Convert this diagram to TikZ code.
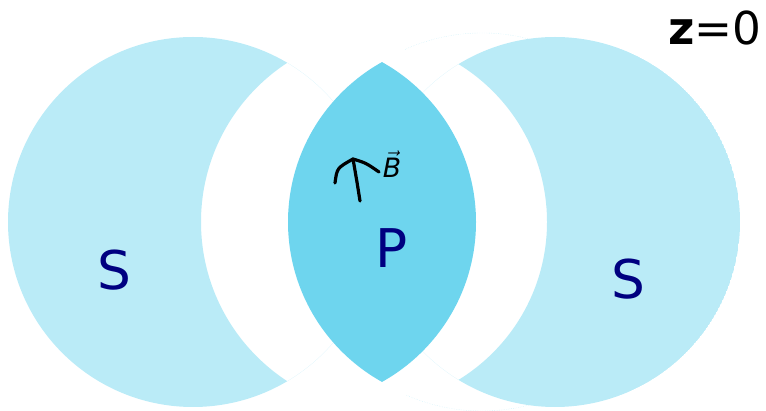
\documentclass[tikz,border=0pt]{standalone}
\usepackage{amsmath}
\usepackage{fontspec}
\setmainfont{DejaVu Sans}
\usepackage{tikz}
\usetikzlibrary{calc}
\definecolor{PaleCyan}{RGB}{186,235,247}
\definecolor{LensCyan}{RGB}{110,213,238}
\definecolor{NavyText}{RGB}{0,0,128}
\tikzset{
	region label/.style={text=NavyText, inner sep=0pt, font=\fontsize{40}{48}\selectfont},
	hand stroke/.style={line width=2.4pt, line cap=round, line join=round}
}
\begin{document}
\begin{tikzpicture}[x=0.75pt, y=0.75pt]
			\useasboundingbox (0,0) rectangle (766,410);
			
			\coordinate (CL) at (193,188);
			\coordinate (CR) at (555,188);
			
			% 左侧 S 区
			\begin{scope}
				\clip (CL) circle (185);
				\fill[PaleCyan, even odd rule] (CL) circle (185) (391,188) circle (190);
			\end{scope}
			% 右侧 S 区
			\begin{scope}
				\clip (CR) circle (185);
				\fill[PaleCyan, even odd rule] (CR) circle (185) (362,188) circle (185);
			\end{scope}
			\draw[LensCyan!45, densely dotted, line width=0.3pt] (482,188) ++(114:189) arc (114:-114:189);
			
			% 中间 P 区
			\begin{scope}
				\clip (293,188) circle (183);
				\fill[LensCyan] (471,188) circle (183);
			\end{scope}
			
			\node[region label] (sleft) at (114,140) {S};
			\node[region label] (sright) at (628,131) {S};
			\node[region label] (plabel) at (392,162) {P};
			\node[inner sep=0pt, anchor=base east, font=\fontsize{34}{40}\selectfont] (zlabel) at (762,365) {{\bfseries z}=0};
			
			% 手画的磁场箭头
			\coordinate (Bfoot) at (360,209);
			\coordinate (Btip) at (353,251);
			\draw[hand stroke] (Bfoot) .. controls (357,228) .. (Btip);
			\draw[hand stroke] (Btip) .. controls (337,242) .. (335,227);
			\draw[hand stroke] (Btip) .. controls (366,247) .. (379,238);
			\node[inner sep=0pt, font=\fontsize{20}{24}\selectfont] (blabel) at (392,246) {$\vec{\text{\itshape B}}$};
		\end{tikzpicture}
\end{document}
